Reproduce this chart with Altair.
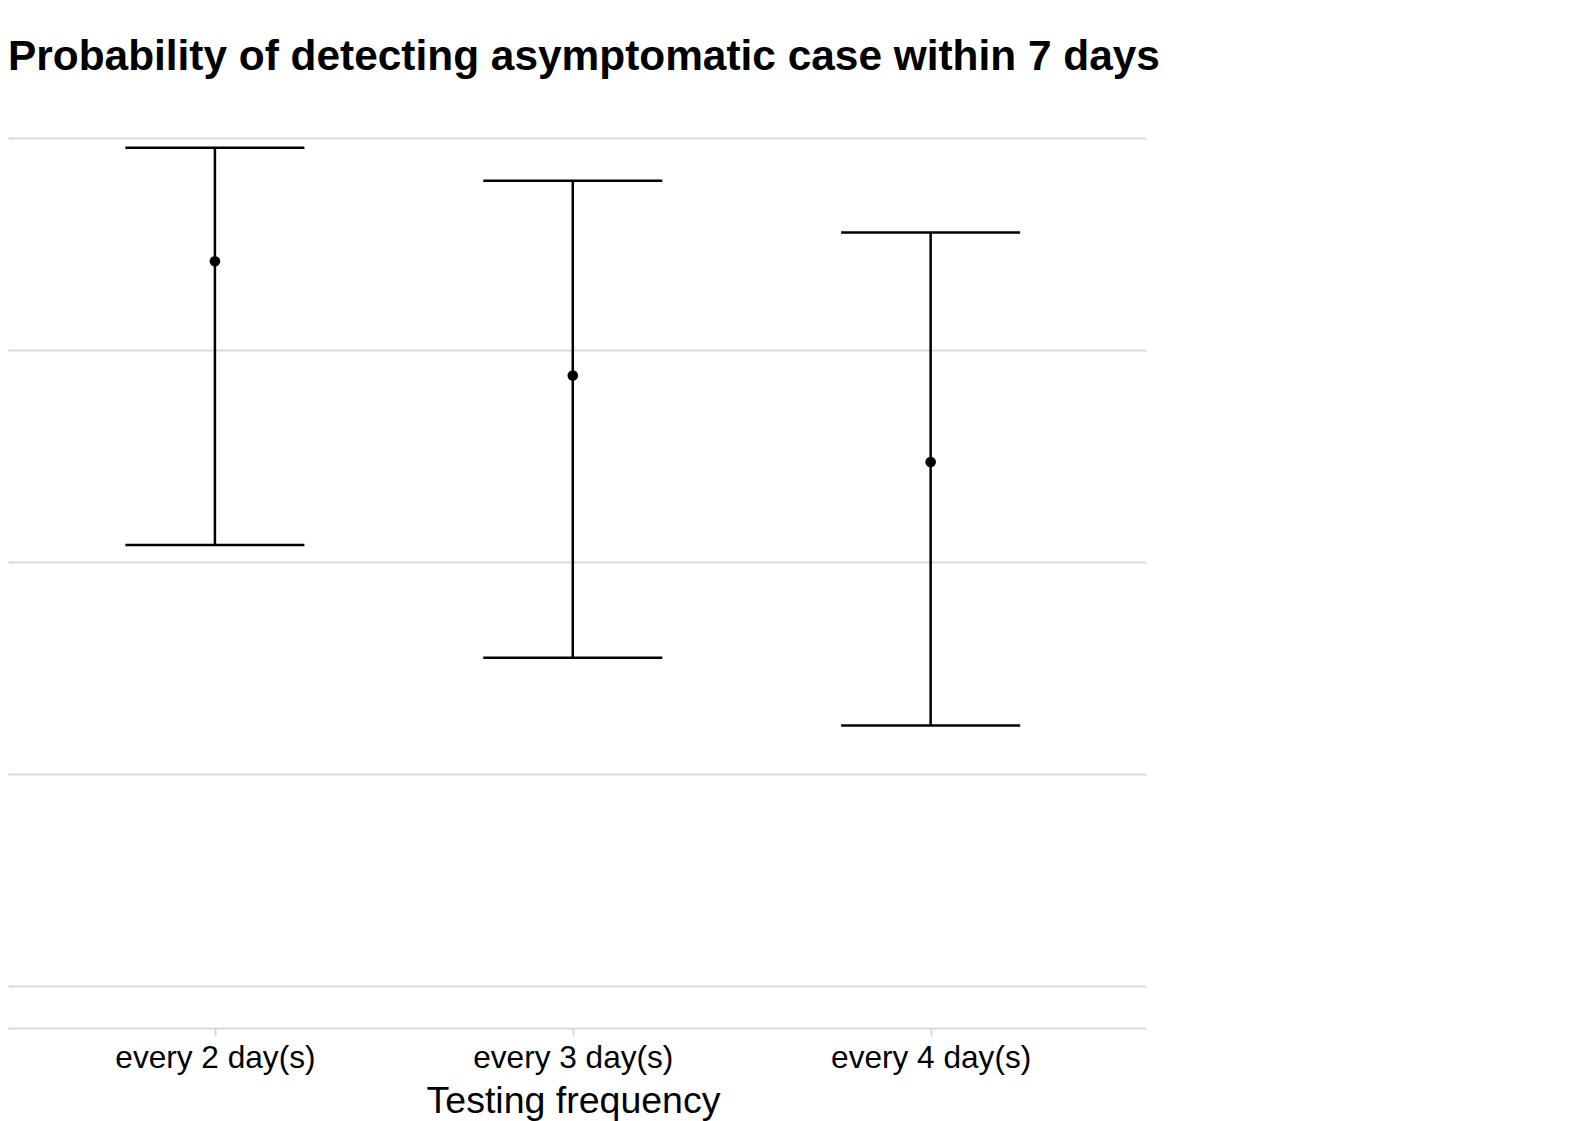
import altair as alt
import pandas as pd

categories = ["every 2 day(s)", "every 3 day(s)", "every 4 day(s)"]
mid = [0.855, 0.720, 0.618]
lower = [0.520, 0.387, 0.307]
upper = [0.989, 0.950, 0.889]

df = pd.DataFrame({"freq": categories, "mid": mid, "lower": lower, "upper": upper})

FONT = "Liberation Sans"

x_enc = alt.X(
    "freq:N",
    sort=categories,
    title="Testing frequency",
    scale=alt.Scale(type="point", padding=0.59, align=0.49),
    axis=alt.Axis(
        labelAngle=0, labelFontSize=31.6, labelColor="#000000", labelFont=FONT,
        labelPadding=6, labelLimit=0, titleFontSize=37.5, titleFont=FONT, titleColor="#000000",
        titleFontWeight="normal", titlePadding=9, titleX=565, titleAlign="center",
        domainColor="#d9d9d9", domainWidth=2, tickColor="#d9d9d9", tickWidth=2,
        tickSize=8, grid=False,
    ),
)
y_scale = alt.Scale(domain=[-0.05, 1.05], nice=False, zero=False)
y_axis = alt.Axis(
    values=[0, 0.25, 0.5, 0.75, 1.0], labels=False, ticks=False, domain=False,
    title=None, grid=True, gridColor="#d9d9d9", gridWidth=2,
)

base = alt.Chart(df)

rule = base.mark_rule(color="black", strokeWidth=2.5).encode(
    x=x_enc,
    y=alt.Y("lower:Q", scale=y_scale, axis=y_axis),
    y2="upper:Q",
)
cap_lo = base.mark_tick(color="black", opacity=1, thickness=2.5, size=179, orient="horizontal").encode(
    x=alt.X("freq:N", sort=categories), y=alt.Y("lower:Q")
)
cap_hi = base.mark_tick(color="black", opacity=1, thickness=2.5, size=179, orient="horizontal").encode(
    x=alt.X("freq:N", sort=categories), y=alt.Y("upper:Q")
)
pts = base.mark_circle(color="black", opacity=1, size=113).encode(
    x=alt.X("freq:N", sort=categories), y=alt.Y("mid:Q")
)

chart = (
    alt.layer(rule, cap_lo, cap_hi, pts)
    .properties(
        width=1138,
        height=932,
        autosize=alt.AutoSizeParams(type="none"),
        padding={"left": 0, "top": 88, "right": 420, "bottom": 95},
        view=alt.ViewBackground(stroke="transparent", strokeWidth=0),
        title=alt.TitleParams(
            "Probability of detecting asymptomatic case within 7 days",
            anchor="start", frame="group", fontSize=42.4, font=FONT,
            fontWeight="bold", color="#000000", baseline="alphabetic", offset=28,
            dy=44,
        ),
    )
    .configure_view(strokeWidth=0, stroke="transparent")
    .configure(background="white")
)

chart.save("out.html", embed_options={"renderer": "svg", "actions": False})
